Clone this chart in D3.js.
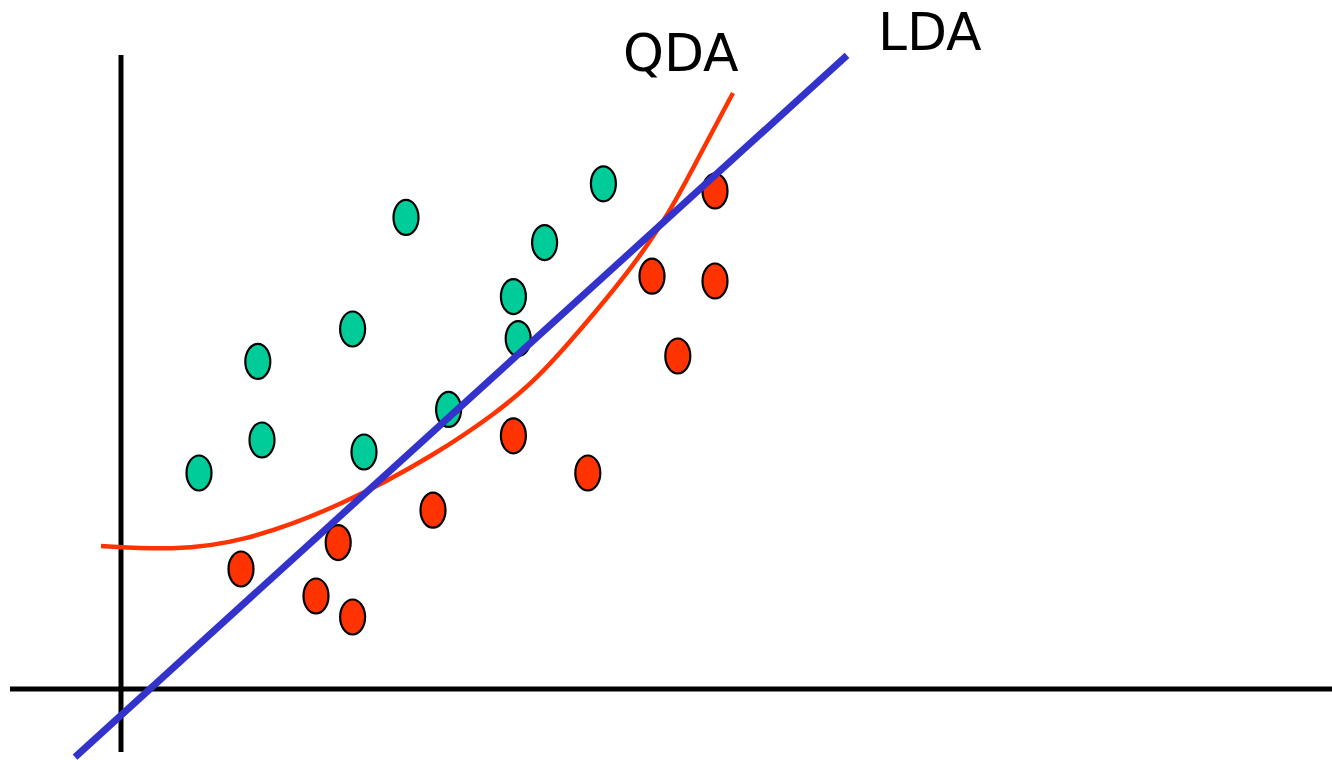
<!DOCTYPE html>
<html>
<head>
<meta charset="utf-8">
<script src="https://cdn.jsdelivr.net/npm/d3@7"></script>
<style>
  html, body { margin: 0; padding: 0; background: #fff; }
  svg { display: block; }
</style>
</head>
<body>
<script>
// Two classes of observations (feature 1, feature 2)
const classAx = [6.5, 11.4, 11.75, 19.3, 20.25, 23.75, 27.3, 32.7, 33.1, 35.3, 40.2];
const classAy = [18.0, 27.3, 20.75, 30.0, 19.75, 39.3, 23.3, 32.7, 29.2, 37.2, 42.1];
const classBx = [10.0, 16.25, 18.1, 19.3, 26.0, 32.7, 38.9, 44.25, 46.4, 49.5, 49.5];
const classBy = [10.0, 7.75, 12.2, 6.0, 14.9, 21.1, 18.0, 34.4, 27.75, 41.5, 34.0];

// Linear decision boundary (two end points)
const ldaX = [-3.83, 60.5];
const ldaY = [-5.67, 52.8];

// Quadratic decision boundary
const qdaX = [-1.67, 4.33, 9.92, 18.25, 26.58, 31.33, 34.08, 36.83, 39.67, 42.42, 45.75, 48.58, 51.0];
const qdaY = [11.92, 11.58, 12.17, 15.17, 19.75, 23.08, 25.33, 28.25, 31.58, 34.92, 39.67, 45.17, 49.67];

const labels = ["QDA", "LDA"];

const W = 1332, H = 760;
const svg = d3.select("body").append("svg").attr("width", W).attr("height", H);

const x = d3.scaleLinear().domain([0, 100]).range([121, 1321]);
const y = d3.scaleLinear().domain([0, 60]).range([689, -31]);

// Axes
svg.append("line").attr("x1", x(0)).attr("x2", x(0)).attr("y1", y(52.83)).attr("y2", y(-5.25))
  .attr("stroke", "#000").attr("stroke-width", 5);
svg.append("line").attr("x1", x(-9.25)).attr("x2", W).attr("y1", y(0)).attr("y2", y(0))
  .attr("stroke", "#000").attr("stroke-width", 5);

function drawPoints(xs, ys, fill) {
  svg.append("g").selectAll("ellipse").data(xs.map((v, i) => [v, ys[i]])).join("ellipse")
    .attr("cx", d => x(d[0])).attr("cy", d => y(d[1]))
    .attr("rx", 12.5).attr("ry", 17.5)
    .attr("fill", fill).attr("stroke", "#000").attr("stroke-width", 2.2);
}
drawPoints(classAx, classAy, "#00CC99");
drawPoints(classBx, classBy, "#FF3300");

// QDA curve
const line = d3.line().x(d => x(d[0])).y(d => y(d[1])).curve(d3.curveBasis);
svg.append("path").datum(qdaX.map((v, i) => [v, qdaY[i]]))
  .attr("d", line).attr("fill", "none").attr("stroke", "#FF3300").attr("stroke-width", 4.5);

// LDA line
svg.append("line").attr("x1", x(ldaX[0])).attr("y1", y(ldaY[0]))
  .attr("x2", x(ldaX[1])).attr("y2", y(ldaY[1]))
  .attr("stroke", "#3333CC").attr("stroke-width", 7);

// Labels
svg.append("text").attr("x", 623).attr("y", 71).text(labels[0])
  .attr("font-family", "DejaVu Sans").attr("font-size", 52).attr("fill", "#000");
svg.append("text").attr("x", 878).attr("y", 50).text(labels[1])
  .attr("font-family", "DejaVu Sans").attr("font-size", 52).attr("fill", "#000");
</script>
</body>
</html>
